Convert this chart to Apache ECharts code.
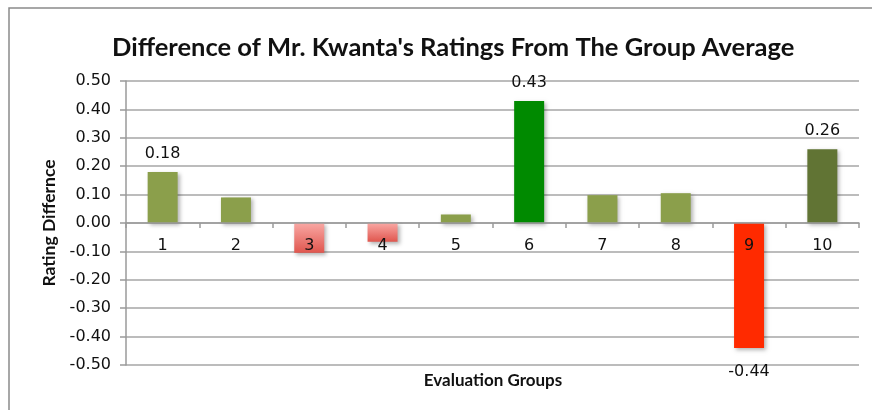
<!DOCTYPE html>
<html><head><meta charset="utf-8">
<script src="https://cdn.jsdelivr.net/npm/echarts@6/dist/echarts.min.js"></script>
<style>html,body{margin:0;padding:0;background:#fff}#c{width:872px;height:410px}</style>
</head><body><div id="c"></div>
<script>
const categories = ['1','2','3','4','5','6','7','8','9','10'];
const values = [0.18, 0.09, -0.105, -0.066, 0.03, 0.43, 0.098, 0.105, -0.44, 0.26];
const labelled = [true, false, false, false, false, true, false, false, true, true];
const yMin = -0.5, yMax = 0.5, yStep = 0.1;
const titleText = "Difference of Mr. Kwanta's Ratings From The Group Average";
const xName = 'Evaluation Groups';
const yName = 'Rating Differnce';

const olive = '#8B9F4B';
const pinkGrad = {type:'linear',x:0,y:0,x2:0,y2:1,colorStops:[{offset:0,color:'#F9A8A4'},{offset:1,color:'#E0564E'}]};
const colors = [olive, olive, pinkGrad, pinkGrad, olive, '#008A00', olive, olive, '#FF2A00', '#617434'];
const HFONT = 'Lato';
const NFONT = 'DejaVu Sans';

const gridTop = 81, gridBottom = 45, H = 410;
const plotH = H - gridTop - gridBottom;
const zeroOffset = -plotH * (0 - yMin) / (yMax - yMin);

const chart = echarts.init(document.getElementById('c'));
chart.setOption({
  animation:false,
  textStyle:{fontFamily:NFONT},
  title:{text:titleText,left:107,top:30,textStyle:{fontFamily:HFONT,fontSize:25.5,fontWeight:'bold',color:'#111'}},
  graphic:[
    {type:'rect',shape:{x:9,y:8,width:900,height:450},style:{fill:'none',stroke:'#8a8a8a',lineWidth:1.5},z:-10},
    {type:'text',x:493,y:381,style:{text:xName,font:'bold 17px '+HFONT,fill:'#111',align:'center',verticalAlign:'middle'}}
  ],
  grid:{left:126,right:13,top:gridTop,bottom:gridBottom},
  xAxis:{type:'category',data:categories,z:10,offset:zeroOffset,
    axisLine:{onZero:false,lineStyle:{color:'#9a9a9a',width:1.5}},
    axisTick:{show:true,alignWithLabel:false,interval:0,length:5,lineStyle:{color:'#9a9a9a',width:1.5}},
    axisLabel:{margin:15,fontSize:16,color:'#111',fontFamily:NFONT},
    splitLine:{show:false}},
  yAxis:{type:'value',min:yMin,max:yMax,interval:yStep,
    name:yName,nameLocation:'middle',nameGap:63,nameRotate:90,
    nameTextStyle:{fontWeight:'bold',fontSize:17.5,color:'#111',fontFamily:HFONT},
    axisLine:{show:true,lineStyle:{color:'#9a9a9a',width:1.5}},
    axisTick:{show:true,length:6,lineStyle:{color:'#9a9a9a',width:1.5}},
    axisLabel:{margin:15,fontSize:16,color:'#111',fontFamily:NFONT,formatter:v=>v.toFixed(2)},
    splitLine:{show:true,lineStyle:{color:'#a6a6a6',width:1.5}}},
  series:[{type:'bar',barWidth:30,
    data:values.map((v,i)=>({value:v,
      itemStyle:{color:colors[i],shadowBlur:4,shadowOffsetX:2,shadowOffsetY:2,shadowColor:'rgba(0,0,0,0.3)'},
      label:{show:labelled[i],position:v<0?'bottom':'top',distance:v<0?16:10,
        formatter:p=>p.value.toFixed(2),fontSize:16,color:'#111',fontFamily:NFONT}}))
  }]
});
</script></body></html>
